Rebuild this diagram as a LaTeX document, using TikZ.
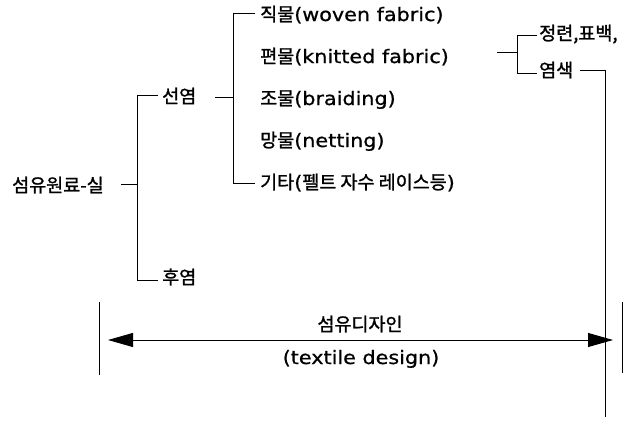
\documentclass[tikz,border=0pt]{standalone}
\usepackage{fontspec}
\setmainfont{Noto Sans CJK KR}[FakeBold=1.4]
\newfontfamily\kr{Noto Sans CJK KR}[FakeBold=1.4]
\newfontfamily\lat{DejaVu Sans}[FakeStretch=1.12,FakeBold=0.8]
\usetikzlibrary{arrows.meta}
\tikzset{
  lbl/.style={anchor=base west, inner sep=0pt, font=\fontsize{18.5}{22}\selectfont},
  clbl/.style={anchor=base, inner sep=0pt, font=\fontsize{18.5}{22}\selectfont},
  conn/.style={line width=0.9pt, black},
  dim/.style={line width=0.9pt, black, {Triangle[length=25pt,width=14pt]}-{Triangle[length=25pt,width=14pt]}}
}
\begin{document}
\begin{tikzpicture}[x=1pt,y=-1pt]
\useasboundingbox (0,0) rectangle (629,429);
% text nodes
\node[lbl] (root) at (12,192) {\kr 섬유원료-실};
\node[lbl] (sy) at (162,103) {\kr 선염};
\node[lbl] (hy) at (162,284) {\kr 후염};
\node[lbl] (i1) at (260,21) {\kr 직물\lat(woven fabric)};
\node[lbl] (i2) at (260,63) {\kr 편물\lat(knitted fabric)};
\node[lbl] (i3) at (260,105) {\kr 조물\lat(braiding)};
\node[lbl] (i4) at (260,147) {\kr 망물\lat(netting)};
\node[lbl] (i5) at (260,189) {\kr 기타\lat(\kr 펠트 자수 레이스등\lat)};
\node[lbl] (p1) at (539,40) {\kr 정련,표백,};
\node[lbl] (p2) at (539,77) {\kr 염색};
\node[clbl] (td) at (360,331) {\kr 섬유디자인};
\node[clbl] (te) at (361,364) {\lat(textile design)};
% junction coordinates
\coordinate (r0) at (121,184);
\coordinate (r1) at (137,184);
\coordinate (a0) at (137,95);
\coordinate (a1) at (158,95);
\coordinate (b0) at (137,280);
\coordinate (b1) at (158,280);
\coordinate (s0) at (215,97);
\coordinate (s1) at (233,97);
\coordinate (t0) at (233,13);
\coordinate (t1) at (255,13);
\coordinate (u0) at (233,183);
\coordinate (u1) at (255,183);
\coordinate (k0) at (497,52);
\coordinate (k1) at (517,52);
\coordinate (m0) at (517,35);
\coordinate (m1) at (537,35);
\coordinate (n0) at (517,73);
\coordinate (n1) at (537,73);
\coordinate (q0) at (580,70);
\coordinate (q1) at (605,70);
\coordinate (q2) at (605,417);
\coordinate (L) at (108,340);
\coordinate (R) at (613,340);
\coordinate (lb0) at (99,302);
\coordinate (lb1) at (99,375);
\coordinate (rb0) at (622,302);
\coordinate (rb1) at (622,373);
% connectors
\draw[conn] (r0) -- (r1);
\draw[conn] (a1) -- (a0) -- (b0) -- (b1);
\draw[conn] (s0) -- (s1);
\draw[conn] (t1) -- (t0) -- (u0) -- (u1);
\draw[conn] (k0) -- (k1);
\draw[conn] (m1) -- (m0) -- (n0) -- (n1);
\draw[conn] (q0) -- (q1) -- (q2);
\draw[dim] (L) -- (R);
\draw[conn] (lb0) -- (lb1);
\draw[conn] (rb0) -- (rb1);
\end{tikzpicture}
\end{document}
